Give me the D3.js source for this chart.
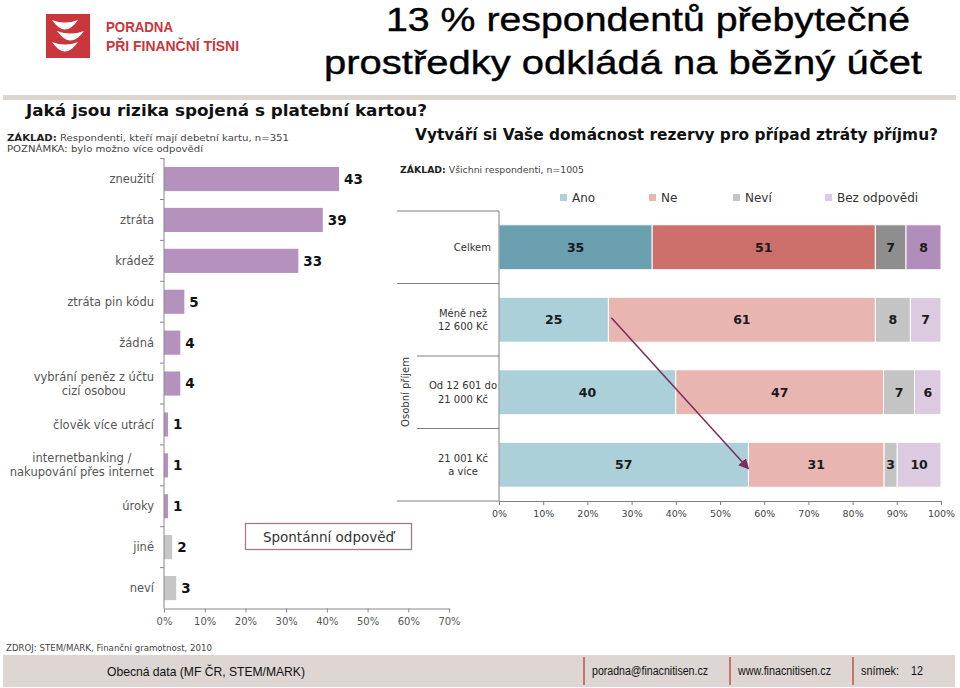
<!DOCTYPE html>
<html><head><meta charset="utf-8">
<script src="https://cdn.jsdelivr.net/npm/d3@7"></script>
<style>body{margin:0;background:#fff}svg{display:block}</style>
</head><body>
<svg id="c" width="960" height="688"></svg>
<script>
// ---- data: left chart (risks of payment card) ----
const riskCategories = ["zneužití","ztráta","krádež","ztráta pin kódu","žádná","vybrání peněz z účtu\ncizí osobou","člověk více utrácí","internetbanking /\nnakupování přes internet","úroky","jiné","neví"];
const riskValues = [43,39,33,5,4,4,1,1,1,2,3];
const riskGroup = ["risk","risk","risk","risk","risk","risk","risk","risk","risk","other","other"];
const riskTicks = [0,0.1,0.2,0.3,0.4,0.5,0.6,0.7];

// ---- data: right chart (household reserves) ----
const incomeRows = ["Celkem","Méně než\n12 600 Kč","Od 12 601 do\n21 000 Kč","21 001 Kč\na více"];
const seriesNames = ["Ano","Ne","Neví","Bez odpovědi"];
const anoValues = [35,25,40,57];
const neValues = [51,61,47,31];
const neviValues = [7,8,7,3];
const bezValues = [8,7,6,10];
const shareTicks = [0,0.1,0.2,0.3,0.4,0.5,0.6,0.7,0.8,0.9,1];

const svg = d3.select("#c");
const SANS = "'Liberation Sans', Arial, sans-serif";
const VERD = "'DejaVu Sans', Verdana, sans-serif";

// ---- header ----
const logo = svg.append("g");
logo.append("rect").attr("x",46).attr("y",14).attr("width",44).attr("height",44).attr("fill","#c9363b");
const crescents = [[52,20,78,2.5,9.5],[57,31,84,2.5,9.5],[52,42,78,2.5,9.5]];
crescents.forEach(([x1,y,x2,d1,d2])=>{
  const m=(x1+x2)/2;
  logo.append("path").attr("fill","#fff")
    .attr("d",`M${x1},${y} Q${m},${y+d1*2} ${x2},${y} Q${m},${y+d2*2} ${x1},${y} Z`);
});
svg.append("text").attr("x",106).attr("y",32).attr("font-family",SANS).attr("font-weight","bold")
  .attr("font-size",14).attr("fill","#c9363b").attr("textLength",67).attr("lengthAdjust","spacingAndGlyphs").text("PORADNA");
svg.append("text").attr("x",106).attr("y",51).attr("font-family",SANS).attr("font-weight","bold")
  .attr("font-size",14).attr("fill","#c9363b").attr("textLength",133).attr("lengthAdjust","spacingAndGlyphs").text("PŘI FINANČNÍ TÍSNI");

svg.append("text").attr("x",386).attr("y",31).attr("font-family",SANS).attr("font-size",34).attr("fill","#000")
  .attr("stroke","#000").attr("stroke-width",0.4)
  .attr("textLength",524).attr("lengthAdjust","spacingAndGlyphs").text("13 % respondentů přebytečné");
svg.append("text").attr("x",324).attr("y",74).attr("font-family",SANS).attr("font-size",34).attr("fill","#000")
  .attr("stroke","#000").attr("stroke-width",0.4)
  .attr("textLength",598).attr("lengthAdjust","spacingAndGlyphs").text("prostředky odkládá na běžný účet");

svg.append("rect").attr("x",3).attr("y",95).attr("width",953).attr("height",5).attr("fill","#dbd5ce");

// ---- left chart ----
svg.append("text").attr("x",26).attr("y",116).attr("font-family",VERD).attr("font-weight","bold").attr("font-size",16.5)
  .attr("fill","#111").attr("textLength",401).attr("lengthAdjust","spacingAndGlyphs").text("Jaká jsou rizika spojená s platební kartou?");
const z1 = svg.append("text").attr("x",7).attr("y",141).attr("font-family",VERD).attr("font-size",9.5).attr("fill","#444")
  .attr("textLength",282).attr("lengthAdjust","spacingAndGlyphs");
z1.append("tspan").attr("font-weight","bold").attr("fill","#222").text("ZÁKLAD:");
z1.append("tspan").text(" Respondenti, kteří mají debetní kartu, n=351");
svg.append("text").attr("x",7).attr("y",152).attr("font-family",VERD).attr("font-size",9.5).attr("fill","#444")
  .attr("textLength",196).attr("lengthAdjust","spacingAndGlyphs").text("POZNÁMKA: bylo možno více odpovědí");

const xL = d3.scaleLinear().domain([0,0.7]).range([164,449]);
const yL = d3.scaleBand().domain(riskCategories).range([158.6,608.5]).paddingInner(0.41).paddingOuter(0.205);
const stepL = yL.step();

svg.append("g").selectAll("rect").data(riskCategories).join("rect")
  .attr("x",xL(0)).attr("y",d=>yL(d)).attr("height",yL.bandwidth())
  .attr("width",(d,i)=>xL(riskValues[i]/100)-xL(0))
  .attr("fill",(d,i)=>riskGroup[i]==="risk"?"#b591bd":"#c6c6c6");

svg.append("g").selectAll("text").data(riskCategories).join("text")
  .attr("x",(d,i)=>xL(riskValues[i]/100)+5).attr("y",d=>yL(d)+yL.bandwidth()/2).attr("dy","0.36em")
  .attr("font-family",VERD).attr("font-weight","bold").attr("font-size",13.5).attr("fill","#111")
  .text((d,i)=>riskValues[i]);

// category labels
riskCategories.forEach(c=>{
  const lines = c.split("\n");
  const cy = yL(c)+yL.bandwidth()/2;
  const lh = 14;
  const texts = lines.map((ln,j)=>svg.append("text")
    .attr("y",cy+(j-(lines.length-1)/2)*lh).attr("dy","0.36em")
    .attr("font-family",VERD).attr("font-size",11.5).attr("fill","#555").text(ln));
  if(lines.length===1){ texts[0].attr("x",154).attr("text-anchor","end"); }
  else {
    const w = d3.max(texts,t=>t.node().getComputedTextLength());
    texts.forEach(t=>t.attr("x",154-w/2).attr("text-anchor","middle"));
  }
});

// left category axis
const axL = svg.append("g").attr("stroke","#888").attr("stroke-width",1);
axL.append("line").attr("x1",164).attr("x2",164).attr("y1",158).attr("y2",608.5);
riskCategories.forEach(c=>{
  const yb = yL(c)-stepL*0.205;
  axL.append("line").attr("x1",160).attr("x2",164).attr("y1",yb).attr("y2",yb);
});
const gxL = svg.append("g").attr("transform","translate(0,608.5)")
  .call(d3.axisBottom(xL).tickValues(riskTicks).tickFormat(d3.format(".0%")).tickSize(4).tickSizeOuter(0));
gxL.select(".domain").attr("stroke","#888");
gxL.selectAll(".tick line").attr("stroke","#888");
gxL.selectAll(".tick text").attr("font-family",VERD).attr("font-size",10).attr("fill","#555").attr("dy","0.9em");

svg.append("rect").attr("x",245.5).attr("y",523.5).attr("width",166).attr("height",26)
  .attr("fill","#fff").attr("stroke","#a57a8a").attr("stroke-width",1.3);
svg.append("text").attr("x",328.5).attr("y",537).attr("dy","0.36em").attr("text-anchor","middle")
  .attr("font-family",VERD).attr("font-size",13.5).attr("fill","#333").text("Spontánní odpověď");

svg.append("text").attr("x",6).attr("y",651).attr("font-family",VERD).attr("font-size",8).attr("fill","#444")
  .attr("textLength",206).attr("lengthAdjust","spacingAndGlyphs").text("ZDROJ: STEM/MARK, Finanční gramotnost, 2010");

// ---- right chart ----
svg.append("text").attr("x",415).attr("y",140).attr("font-family",VERD).attr("font-weight","bold").attr("font-size",16)
  .attr("fill","#111").attr("textLength",523).attr("lengthAdjust","spacingAndGlyphs").text("Vytváří si Vaše domácnost rezervy pro případ ztráty příjmu?");
const z2 = svg.append("text").attr("x",400).attr("y",173).attr("font-family",VERD).attr("font-size",9).attr("fill","#444")
  .attr("textLength",184).attr("lengthAdjust","spacingAndGlyphs");
z2.append("tspan").attr("font-weight","bold").attr("fill","#222").text("ZÁKLAD:");
z2.append("tspan").text(" Všichni respondenti, n=1005");

const darkColors = ["#6a9fb0","#cd6f6b","#8e8e8e","#b08dba"];
const lightColors = ["#abd0d9","#e8b5b1","#c4c4c4","#dccbe0"];

// legend
const legX = [560,649,733,825];
seriesNames.forEach((s,i)=>{
  svg.append("rect").attr("x",legX[i]).attr("y",194).attr("width",7).attr("height",7).attr("fill",lightColors[i]);
  svg.append("text").attr("x",legX[i]+12).attr("y",198).attr("dy","0.36em").attr("font-family",VERD)
    .attr("font-size",12).attr("fill","#333").text(s);
});

const xR = d3.scaleLinear().domain([0,1]).range([499,941]);
const yR = d3.scaleBand().domain(incomeRows).range([211,501]).paddingInner(0.38).paddingOuter(0.19);
const stepR = yR.step();
const table = incomeRows.map((r,i)=>({row:r,"Ano":anoValues[i],"Ne":neValues[i],"Neví":neviValues[i],"Bez odpovědi":bezValues[i]}));
const stacked = d3.stack().keys(seriesNames).offset(d3.stackOffsetExpand)(table);

stacked.forEach((layer,k)=>{
  const g = svg.append("g");
  g.selectAll("rect").data(layer).join("rect")
    .attr("x",d=>xR(d[0])).attr("width",d=>xR(d[1])-xR(d[0]))
    .attr("y",d=>yR(d.data.row)).attr("height",yR.bandwidth())
    .attr("fill",(d,i)=>i===0?darkColors[k]:lightColors[k])
    .attr("stroke","#fff").attr("stroke-width",1);
  g.selectAll("text").data(layer).join("text")
    .attr("x",d=>(xR(d[0])+xR(d[1]))/2).attr("y",d=>yR(d.data.row)+yR.bandwidth()/2).attr("dy","0.36em")
    .attr("text-anchor","middle").attr("font-family",VERD).attr("font-weight","bold").attr("font-size",12.5)
    .attr("fill","#1a1a1a").text(d=>d.data[layer.key]);
});

// right category labels
incomeRows.forEach((r,i)=>{
  const lines = r.split("\n");
  const cy = yR(r)+yR.bandwidth()/2;
  lines.forEach((ln,j)=>{
    svg.append("text").attr("x",lines.length===1?491:463).attr("text-anchor",lines.length===1?"end":"middle")
      .attr("y",cy+(j-(lines.length-1)/2)*13.5).attr("dy","0.36em")
      .attr("font-family",VERD).attr("font-size",10).attr("fill","#333").text(ln);
  });
});
svg.append("text").attr("transform","translate(409,392) rotate(-90)").attr("text-anchor","middle")
  .attr("font-family",VERD).attr("font-size",10).attr("fill","#333").text("Osobní příjem");

// right axes
const axR = svg.append("g").attr("stroke","#7f7f7f").attr("stroke-width",1);
axR.append("line").attr("x1",499).attr("x2",499).attr("y1",211).attr("y2",501);
incomeRows.forEach((r,i)=>{
  const yb = yR(r)-stepR*0.19;
  axR.append("line").attr("x1",i<2?397:417).attr("x2",499).attr("y1",yb).attr("y2",yb);
});
axR.append("line").attr("x1",397).attr("x2",499).attr("y1",501).attr("y2",501);
const gxR = svg.append("g").attr("transform","translate(0,501)")
  .call(d3.axisBottom(xR).tickValues(shareTicks).tickFormat(d3.format(".0%")).tickSize(4).tickSizeOuter(0));
gxR.select(".domain").attr("stroke","#7f7f7f");
gxR.selectAll(".tick line").attr("stroke","#7f7f7f");
gxR.selectAll(".tick text").attr("font-family",VERD).attr("font-size",9.5).attr("fill","#444").attr("dy","0.9em");

// arrow
svg.append("defs").append("marker").attr("id","ah").attr("viewBox","0 0 10 10").attr("refX",9).attr("refY",5)
  .attr("markerWidth",7).attr("markerHeight",7).attr("orient","auto-start-reverse")
  .append("path").attr("d","M0,0 L10,5 L0,10 Z").attr("fill","#7b2a5e");
const s1 = stacked[0][1], s3 = stacked[0][3];
svg.append("line")
  .attr("x1",xR(s1[1])+3).attr("y1",yR(incomeRows[1])+yR.bandwidth()/2-2)
  .attr("x2",xR(s3[1])).attr("y2",yR(incomeRows[3])+yR.bandwidth()/2+4)
  .attr("stroke","#7b2a5e").attr("stroke-width",1.5).attr("marker-end","url(#ah)");

// ---- footer ----
svg.append("rect").attr("x",3).attr("y",655).attr("width",952).attr("height",32).attr("fill","#ddd6d2");
svg.append("text").attr("x",107).attr("y",675).attr("dy","0.1em").attr("font-family",SANS).attr("font-size",13).attr("fill","#111")
  .attr("textLength",198).attr("lengthAdjust","spacingAndGlyphs").text("Obecná data  (MF ČR, STEM/MARK)");
[584,730,853].forEach(x=>svg.append("line").attr("x1",x).attr("x2",x).attr("y1",657).attr("y2",685)
  .attr("stroke","#c0504d").attr("stroke-width",1.5));
const foot = [[592,"poradna@finacnitisen.cz",116],[738,"www.finacnitisen.cz",93],[861,"snímek:",38],[911,"12",12]];
foot.forEach(([x,t,w])=>svg.append("text").attr("x",x).attr("y",675).attr("font-family",SANS).attr("font-size",12).attr("fill","#111")
  .attr("textLength",w).attr("lengthAdjust","spacingAndGlyphs").text(t));
</script>
</body></html>
